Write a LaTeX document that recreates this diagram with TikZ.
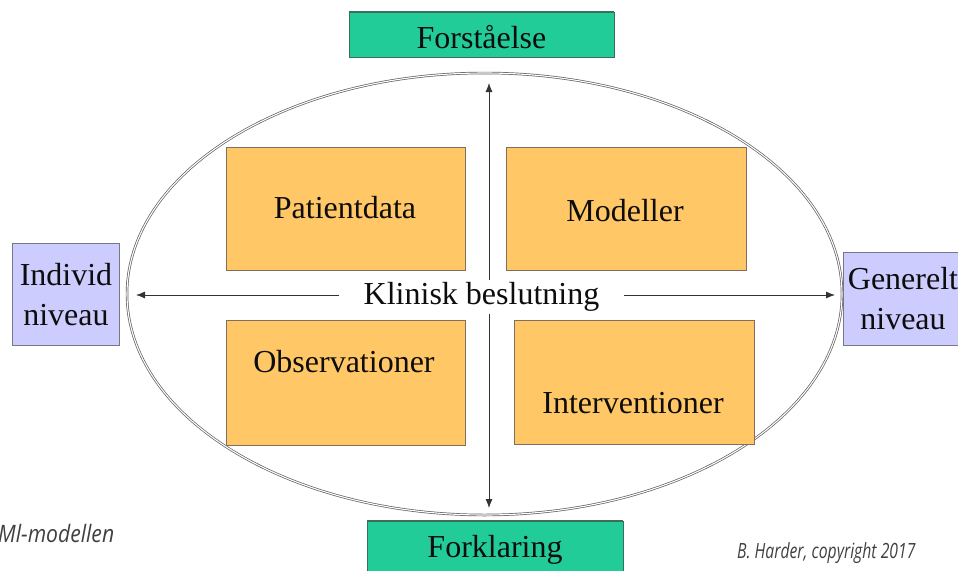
\documentclass[tikz,border=0pt]{standalone}
\usepackage{fontspec}
\setmainfont{Liberation Serif}
\newfontfamily\notefont{Open Sans}
\usetikzlibrary{arrows.meta}
\definecolor{boxgreen}{RGB}{34,204,153}
\definecolor{greenedge}{RGB}{60,110,90}
\definecolor{boxorange}{RGB}{255,199,102}
\definecolor{orangeedge}{RGB}{130,110,90}
\definecolor{boxlav}{RGB}{204,204,255}
\definecolor{laveedge}{RGB}{120,120,130}
\definecolor{linegray}{RGB}{95,95,95}
\begin{document}
\begin{tikzpicture}[x=1pt,y=-1pt,
  maintext/.style={font=\fontsize{32}{40}\selectfont, text=black!95},
  greenbox/.style={draw=greenedge, line width=0.9pt, fill=boxgreen, inner sep=0pt},
  orangebox/.style={draw=orangeedge, line width=0.8pt, fill=boxorange, inner sep=0pt},
  lavbox/.style={draw=laveedge, line width=0.8pt, fill=boxlav, inner sep=0pt},
  arr/.style={draw=black!80, line width=0.8pt, -{Latex[length=9pt,width=7pt]}},
  note/.style={text=black!75, inner sep=0pt}
]
\useasboundingbox (0,0) rectangle (958,570);
\clip (0,0) rectangle (958,570);

% ellipse
\draw[draw=linegray, double=white, line width=0.7pt, double distance=1.1pt]
  (484.5,294) ellipse [x radius=357.5, y radius=221];

% top / bottom boxes
\node[greenbox, minimum width=265pt, minimum height=45pt] (forst) at (481.5,34.5) {};
\draw[greenedge, line width=1.6pt] (forst.north west) -- (forst.north east);
\node[maintext] (forsttxt) at (481.5,37) {Forståelse};
\node[greenbox, minimum width=256pt, minimum height=60pt] (fork) at (495,551) {};
\draw[greenedge, line width=1.6pt] (fork.north west) -- (fork.north east);
\node[maintext] (forktxt) at (495,550) {Forklaring};

% side boxes
\node[lavbox, minimum width=107pt, minimum height=102pt] (ind) at (65.5,294) {};
\node[maintext, align=center] (indtxt) at (66,295) {Individ\\niveau};
\node[lavbox, minimum width=118pt, minimum height=93pt] (gen) at (902,298.5) {};
\node[maintext, align=center] (gentxt) at (903,299) {Generelt\\niveau};

% orange boxes
\node[orangebox, minimum width=239pt, minimum height=123pt] (pat) at (345.5,208.5) {};
\node[maintext] (pattxt) at (345,208) {Patientdata};
\node[orangebox, minimum width=240pt, minimum height=123pt] (mod) at (626,208.5) {};
\node[maintext] (modtxt) at (625,211) {Modeller};
\node[orangebox, minimum width=239pt, minimum height=125pt] (obs) at (345.5,382.5) {};
\node[maintext] (obstxt) at (344,362) {Observationer};
\node[orangebox, minimum width=240pt, minimum height=124pt] (int) at (634,382) {};
\node[maintext] (inttxt) at (633,403) {Interventioner};

% arrows
\coordinate (vtop) at (489,83);
\coordinate (vbot) at (489,508);
\coordinate (hleft) at (136,295);
\coordinate (hright) at (835,295);
\draw[arr, {Latex[length=9pt,width=7pt]}-{Latex[length=9pt,width=7pt]}] (vtop) -- (vbot);
\node[maintext, fill=white, inner xsep=25pt, inner ysep=2pt] (klin) at (481.5,297) {Klinisk beslutning};
\draw[arr] (klin.west |- hleft) -- (hleft);
\draw[arr] (klin.east |- hright) -- (hright);

% notes
\node[note, anchor=west, font=\notefont\itshape\fontsize{24}{28}\selectfont] (ml) at (-2,533) {\scalebox{0.88}[1]{Ml-modellen}};
\node[note, anchor=west, font=\notefont\itshape\fontsize{21}{25}\selectfont] (copy) at (737,553) {\scalebox{0.75}[1]{B. Harder, copyright 2017}};
\end{tikzpicture}
\end{document}
